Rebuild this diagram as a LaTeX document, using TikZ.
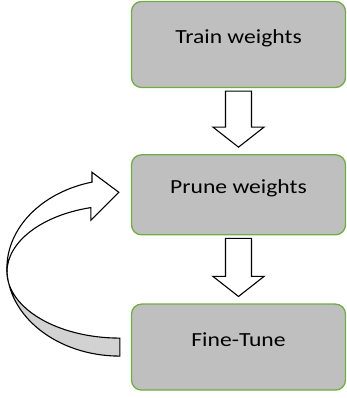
\documentclass[tikz,border=0pt]{standalone}
\usepackage{fontspec}
\newfontfamily\boxfont[FakeStretch=1.18]{Carlito}
\usetikzlibrary{positioning}
\definecolor{boxgreen}{HTML}{70AD47}
\definecolor{boxgray}{HTML}{BFBFBF}
\definecolor{bandgray}{HTML}{D2D2D2}
\tikzset{stepbox/.style={draw=boxgreen,line width=1.3pt,fill=boxgray,rounded corners=10pt,
        minimum width=214pt,minimum height=86pt,text height=12pt,text depth=14pt,
        font=\boxfont\fontsize{20}{24}\selectfont,text=black},
    blockarrow/.style={draw,line width=1.1pt,fill=white,line join=miter},
    loopback/.style={draw,line width=1.1pt,fill=bandgray}
}
\newcommand{\downblock}[2]
{
% args: (upper node, lower node)
    \draw [blockarrow] ([xshift=-13pt,yshift=-3pt]#1.south) -- ([xshift=-13pt,yshift=27pt]#2.north)
        -- ([xshift=-25.5pt,yshift=27pt]#2.north) -- ([yshift=7pt]#2.north)
        -- ([xshift=25.5pt,yshift=27pt]#2.north) -- ([xshift=13pt,yshift=27pt]#2.north)
        -- ([xshift=13pt,yshift=-3pt]#1.south) -- cycle;
}

\begin{document}
\begin{tikzpicture}[x=1pt,y=1pt,node distance=66pt]

\useasboundingbox (0,0) rectangle (347,398);

\node (train) at (238.5,353.5) [stepbox] {Train weights};
\node (prune) [stepbox,below=of train,minimum height=80pt] {Prune weights};
\node (fine) [stepbox,below=68pt of prune] {Fine-Tune};

\downblock{train}{prune}
\downblock{prune}{fine}

% curved arrow from fine-tune back to prune
\coordinate (loopbot) at ([xshift=-11pt]fine.west);
\coordinate (looptip) at ([xshift=-12pt,yshift=2.5pt]prune.west);

\draw [loopback] ([yshift=-9pt]loopbot) arc [start angle=270,end angle=180,x radius=113pt,y radius=89pt]
    -- ++(0,-4) arc [start angle=180,end angle=270,x radius=113pt,y radius=67pt] -- cycle;
\draw [blockarrow] (looptip) -- ++(-28,-28) -- ++(0,12.7)
    arc [start angle=104.9,end angle=180,x radius=113pt,y radius=67pt]
    -- ++(0,4) arc [start angle=180,end angle=104.3,x radius=113pt,y radius=89pt]
    -- ++(0,9.8) -- cycle;

\end{tikzpicture}
\end{document}
